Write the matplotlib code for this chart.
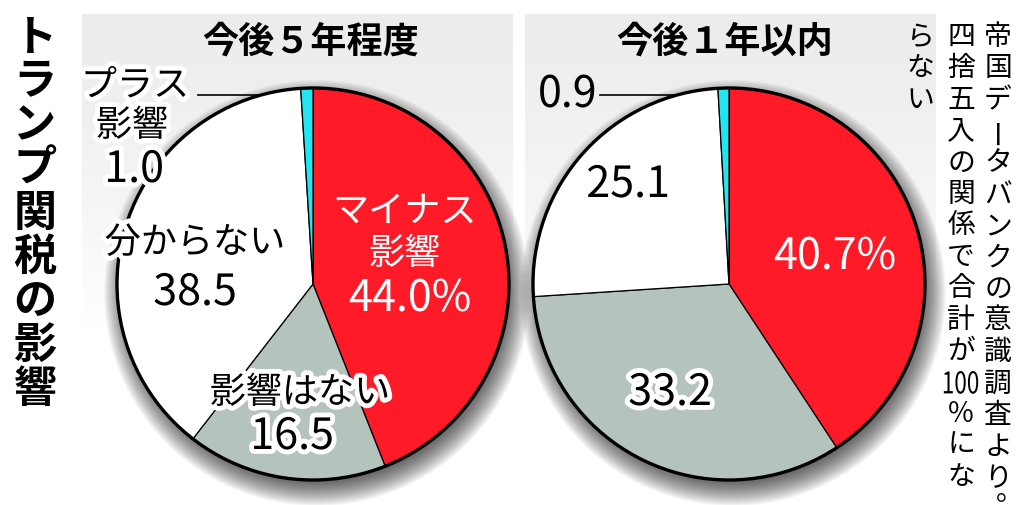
import re
import numpy as np
import matplotlib
matplotlib.use('Agg')
import matplotlib.pyplot as plt
import matplotlib.patheffects as pe
from matplotlib.patches import Circle, PathPatch
from matplotlib.textpath import TextPath
from matplotlib.font_manager import FontProperties
from matplotlib.transforms import Affine2D

plt.rcParams['font.family'] = ['Noto Sans CJK JP', 'DejaVu Sans']

W, H = 1024, 505

title = 'トランプ関税の影響'
panel_titles = ['今後５年程度', '今後１年以内']
categories = ['マイナス影響', '影響はない', '分からない', 'プラス影響']
five_year = [44.0, 16.5, 38.5, 1.0]
one_year = [40.7, 33.2, 25.1, 0.9]
colors = ['#ff1a28', '#b5c3bd', '#ffffff', '#22e5ef']
note_cols = ['帝国データバンクの意識調査より。', '四捨五入の関係で合計が100％にな', 'らない']

fig = plt.figure(figsize=(W / 100, H / 100), dpi=100)
ax = fig.add_axes([0, 0, 1, 1])

halo = [pe.withStroke(linewidth=7, foreground='white')]


def panel(x0, x1, y0, y1):
    # gray header fading to white
    g = np.linspace(0, 1, 200) ** 1.3
    col = 236 + (255 - 236) * g
    img = np.repeat(col[:, None], 2, axis=1)
    img = np.dstack([img, img, img]) / 255.0
    ax.imshow(img, extent=(x0, x1, y1, y0), aspect='auto', zorder=0,
              interpolation='bilinear')


def shadow(cx, cy, r):
    for k in range(30):
        ax.add_patch(Circle((cx + 4, cy + 9), r + 17 - k, fc='black',
                            alpha=0.03, lw=0, zorder=1))


def narrow_digits(x, y, t, size=30, sx=0.75, sy=1.0):
    # tall narrow digits set in one vertical cell
    tp = TextPath((0, 0), t, size=size, prop=FontProperties(family='Noto Sans CJK JP'))
    bb = tp.get_extents()
    tr = (Affine2D().translate(-(bb.x0 + bb.x1) / 2, -(bb.y0 + bb.y1) / 2)
          .scale(sx, -sy).translate(x, y))
    ax.add_patch(PathPatch(tr.transform_path(tp), fc='black', lw=0, zorder=6))


def vtext(x, y0, pitch, s, **kw):
    tokens = re.findall(r'[0-9]+|.', s)
    for i, t in enumerate(tokens):
        y = y0 + i * pitch
        if t == 'ー':
            ax.text(x, y, t, rotation=90, ha='center', va='center', **kw)
        elif t == '。':
            ax.text(x + 12, y - 18, t, ha='center', va='center', **kw)
        elif t.isdigit():
            narrow_digits(x, y, t)
        else:
            ax.text(x, y, t, ha='center', va='center', **kw)


def draw_pie(values, cx, cy, r):
    shadow(cx, cy, r)
    ax.pie(values, colors=colors, startangle=-90, counterclock=True,
           center=(cx, cy), radius=r,
           wedgeprops=dict(edgecolor='black', linewidth=0.9, zorder=3))
    ax.add_patch(Circle((cx, cy), r, fill=False, ec='black', lw=2.4, zorder=4))


# panels
panel(82, 513, 14, 330)
panel(525, 936, 14, 330)

# connector lines for the small slices
ax.plot([198, 300], [95, 95], color='black', lw=1.2, zorder=2)
ax.plot([600, 722], [95, 95], color='black', lw=1.2, zorder=2)

draw_pie(five_year, 313, 284, 196)
draw_pie(one_year, 729, 284, 196)

# panel headings
ax.text(311, 42, panel_titles[0], ha='center', va='center', fontsize=26,
        fontweight='bold', zorder=5)
ax.text(725, 42, panel_titles[1], ha='center', va='center', fontsize=26,
        fontweight='bold', zorder=5)

lab = dict(ha='center', va='center', zorder=6)
big = 31
small = 26

# five year labels
ax.text(405, 212, 'マイナス', color='white', fontsize=small, **lab)
ax.text(405, 254, '影響', color='white', fontsize=small, **lab)
ax.text(410, 300, f'{five_year[0]:.1f}%', color='white', fontsize=big, **lab)
ax.text(300, 393, categories[1], fontsize=small, path_effects=halo, **lab)
ax.text(292, 437, f'{five_year[1]:.1f}', fontsize=big, path_effects=halo, **lab)
ax.text(195, 243, categories[2], fontsize=small, path_effects=halo, **lab)
ax.text(195, 293, f'{five_year[2]:.1f}', fontsize=big, path_effects=halo, **lab)
ax.text(135, 86, 'プラス', fontsize=small, path_effects=halo, **lab)
ax.text(132, 126, '影響', fontsize=small, path_effects=halo, **lab)
ax.text(134, 170, f'{five_year[3]:.1f}', fontsize=big, path_effects=halo, **lab)

# one year labels
ax.text(835, 258, f'{one_year[0]:.1f}%', color='white', fontsize=big, **lab)
ax.text(670, 393, f'{one_year[1]:.1f}', fontsize=big, path_effects=halo, **lab)
ax.text(628, 185, f'{one_year[2]:.1f}', fontsize=big, path_effects=halo, **lab)
ax.text(568, 96, f'{one_year[3]:.1f}', fontsize=big, zorder=6, ha='center', va='center')

# vertical title and note
vtext(35, 37, 44, title, fontsize=31, fontweight='bold', zorder=6)
vtext(998, 37, 31.5, note_cols[0], fontsize=20, zorder=6)
vtext(961, 37, 31.4, note_cols[1], fontsize=20, zorder=6)
vtext(920, 37, 31.4, note_cols[2], fontsize=20, zorder=6)

ax.set_xlim(0, W)
ax.set_ylim(H, 0)
ax.set_aspect('auto')
ax.axis('off')

fig.savefig('out.png', dpi=100, facecolor='white')
